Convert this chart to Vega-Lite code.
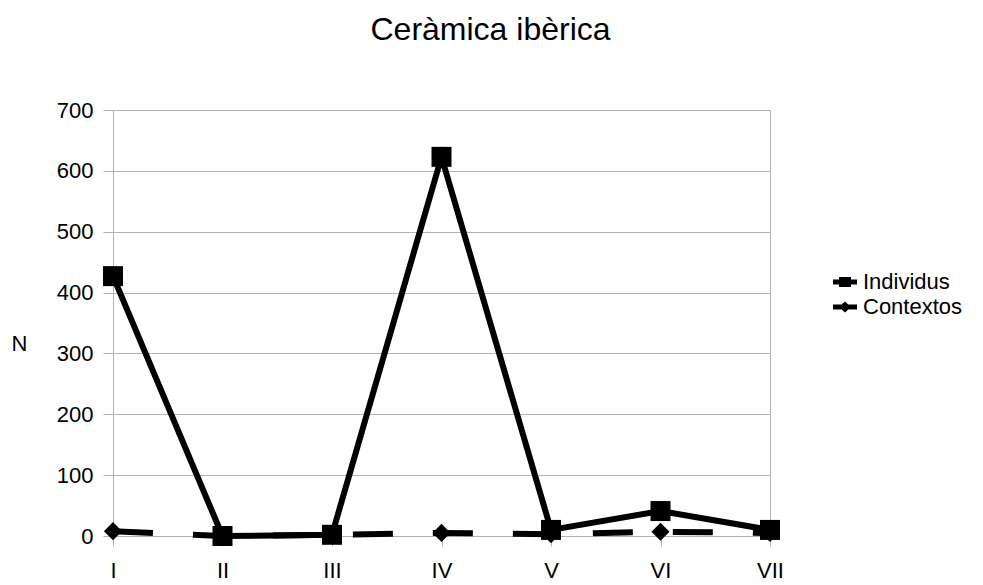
{
  "$schema": "https://vega.github.io/schema/vega-lite/v6.json",
  "autosize": "none",
  "width": 657,
  "height": 426,
  "padding": {"left": 113, "top": 110, "right": 213, "bottom": 49},
  "background": "white",
  "title": {
    "text": "Ceràmica ibèrica",
    "font": "Liberation Sans",
    "fontSize": 32,
    "fontWeight": "normal",
    "color": "black",
    "anchor": "middle",
    "frame": "group",
    "dx": 49,
    "offset": 52
  },
  "config": {
    "view": {"stroke": "#b3b3b3", "strokeWidth": 1},
    "font": "Liberation Sans"
  },
  "data": {
    "values": [
      {"periode": "I", "serie": "Contextos", "n": 8},
      {"periode": "II", "serie": "Contextos", "n": 0},
      {"periode": "III", "serie": "Contextos", "n": 2},
      {"periode": "IV", "serie": "Contextos", "n": 5},
      {"periode": "V", "serie": "Contextos", "n": 3},
      {"periode": "VI", "serie": "Contextos", "n": 7},
      {"periode": "VII", "serie": "Contextos", "n": 5},
      {"periode": "I", "serie": "Individus", "n": 427},
      {"periode": "II", "serie": "Individus", "n": 0},
      {"periode": "III", "serie": "Individus", "n": 2},
      {"periode": "IV", "serie": "Individus", "n": 623},
      {"periode": "V", "serie": "Individus", "n": 10},
      {"periode": "VI", "serie": "Individus", "n": 41},
      {"periode": "VII", "serie": "Individus", "n": 10}
    ]
  },
  "encoding": {
    "x": {
      "field": "periode",
      "type": "ordinal",
      "sort": ["I", "II", "III", "IV", "V", "VI", "VII"],
      "scale": {"type": "point", "padding": 0},
      "axis": {
        "title": null,
        "labelAngle": 0,
        "labelFontSize": 22,
        "labelColor": "black",
        "labelPadding": 14,
        "tickSize": 10,
        "tickColor": "#b3b3b3",
        "domainColor": "#b3b3b3",
        "grid": false
      }
    },
    "y": {
      "field": "n",
      "type": "quantitative",
      "scale": {"domain": [0, 700], "nice": false},
      "axis": {
        "values": [0, 100, 200, 300, 400, 500, 600, 700],
        "title": "N",
        "titleAngle": 0,
        "titleX": -94,
        "titleY": 233,
        "titleAlign": "center",
        "titleBaseline": "middle",
        "titleFontSize": 22,
        "titleFontWeight": "normal",
        "titleColor": "black",
        "labelFontSize": 22,
        "labelColor": "black",
        "labelPadding": 10,
        "tickSize": 10,
        "tickColor": "#b3b3b3",
        "domainColor": "#b3b3b3",
        "gridColor": "#b3b3b3"
      }
    },
    "color": {
      "field": "serie",
      "type": "nominal",
      "scale": {"domain": ["Individus", "Contextos"], "range": ["black", "black"]},
      "legend": {
        "title": null,
        "orient": "none",
        "legendX": 720,
        "legendY": 160,
        "padding": 0,
        "symbolSize": 576,
        "symbolType": "square",
        "labelFontSize": 22,
        "labelColor": "black",
        "labelOffset": 6,
        "rowPadding": 2,
        "encode": {
          "symbols": {
            "update": {
              "shape": {"signal": "datum.value === 'Individus' ? 'M-1,-0.21H1V0.21H-1Z M-0.5,-0.42H0.5V0.42H-0.5Z' : 'M-1,-0.21H1V0.21H-1Z M-0.5,0L0,-0.45L0.5,0L0,0.45Z'"},
              "size": {"value": 576},
              "fill": {"value": "black"},
              "stroke": {"value": "transparent"},
              "strokeWidth": {"value": 0},
              "strokeDash": {"value": [1, 0]},
              "opacity": {"value": 1}
            }
          }
        }
      }
    }
  },
  "layer": [
    {
      "transform": [{"filter": "datum.serie === 'Contextos'"}],
      "mark": {"type": "line", "strokeWidth": 6, "strokeCap": "butt", "strokeDash": [40, 40]}
    },
    {
      "transform": [{"filter": "datum.serie === 'Contextos'"}],
      "mark": {"type": "point", "filled": true, "opacity": 1, "shape": "diamond", "size": 330}
    },
    {
      "transform": [{"filter": "datum.serie === 'Individus'"}],
      "mark": {"type": "line", "strokeWidth": 6, "strokeCap": "butt"}
    },
    {
      "transform": [{"filter": "datum.serie === 'Individus'"}],
      "mark": {"type": "point", "filled": true, "opacity": 1, "shape": "square", "size": 400}
    }
  ]
}
